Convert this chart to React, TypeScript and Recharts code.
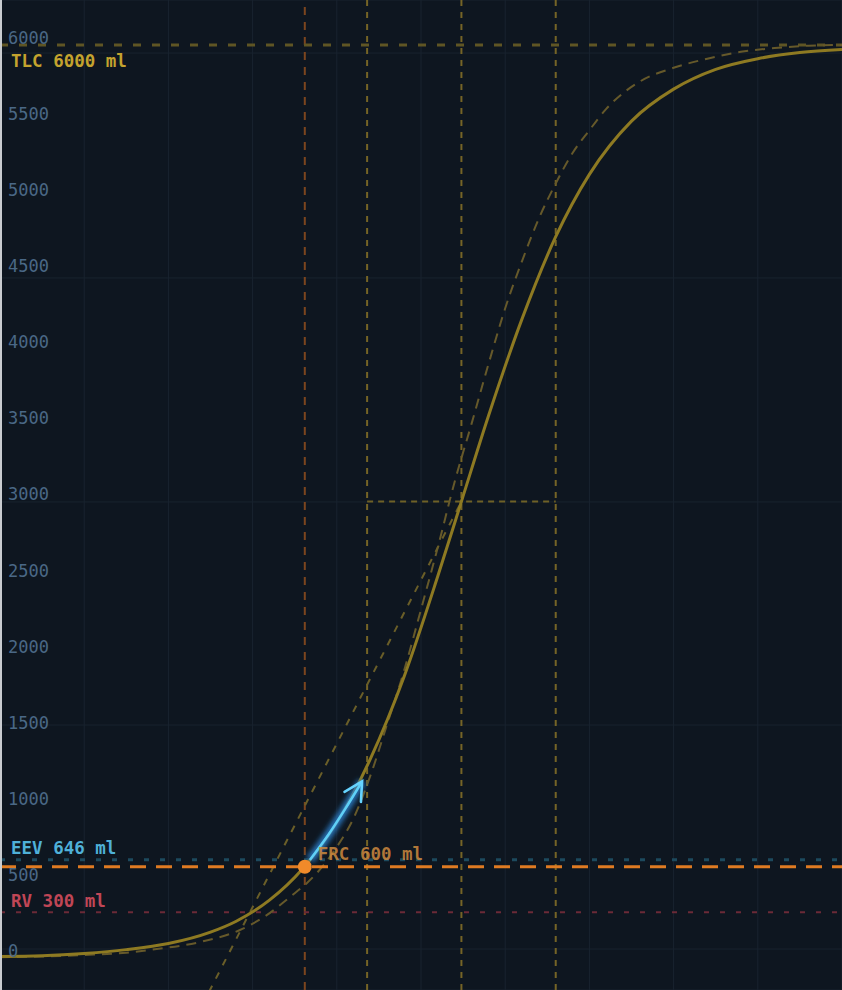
import React from 'react';
import { LineChart, Line, XAxis, YAxis, CartesianGrid, ReferenceLine, ReferenceDot } from 'recharts';

// Solid P-V curve (pressure cmH2O, volume ml)
const pressure = [0, 2.5, 5, 7.5, 10, 12.5, 14, 16, 18, 20, 22, 24, 26, 27.4, 29, 31, 33, 35, 37.5, 40, 42.5, 45, 47.5, 50];
const volume = [10, 15, 30, 55, 95, 170, 240, 380, 590, 890, 1310, 1850, 2510, 3000, 3560, 4200, 4740, 5150, 5500, 5710, 5840, 5910, 5950, 5970];

// Dashed reference curve
const pressureRef = [0, 2.5, 5, 7.5, 9, 12, 14.25, 15.86, 17.22, 18.23, 18.82, 20, 21, 22, 23, 24, 25, 26, 27, 28, 29, 30, 31, 32, 33, 34, 35, 36, 38, 40, 42, 44, 46, 48, 50];
const volumeRef = [5, 10, 20, 35, 55, 108, 184, 283, 401, 493, 559, 730, 920, 1200, 1540, 1890, 2290, 2700, 3130, 3510, 3900, 4270, 4580, 4860, 5090, 5290, 5440, 5580, 5760, 5850, 5910, 5955, 5980, 5995, 6000];

// Straight compliance line
const linePressure = [12, 27.4];
const lineVolume = [-311, 3000];

// Tidal arrow
const tidalPressure = [18.4, 19.5, 20.5, 21.5];
const tidalVolume = [644, 810, 980, 1160];

// Markers
const TLC = 6000;
const EEV = 646;
const FRC = 600;
const RV = 300;
const P_FRC = 18.1;
const P_END = 21.8;
const P_INFLECT = 27.4;
const P_UPPER = 33.0;
const V_INFLECT = 3000;

const volumeTicks = [0, 500, 1000, 1500, 2000, 2500, 3000, 3500, 4000, 4500, 5000, 5500, 6000];
const gridVolumes = [59, 1531, 2997, 4469, 5947];
const gridPressures = [0, 5, 10, 15, 20, 25, 30, 35, 40, 45, 50];

const curve = pressure.map((p, i) => ({ p, v: volume[i] }));
const curveRef = pressureRef.map((p, i) => ({ p, v: volumeRef[i] }));
const straight = linePressure.map((p, i) => ({ p, v: lineVolume[i] }));
const tidal = tidalPressure.map((p, i) => ({ p, v: tidalVolume[i] }));

const MONO = "'DejaVu Sans Mono', monospace";

const VolumeTick = (props: any) => {
  const { y, payload } = props;
  return (
    <text x={8} y={y - 7} dominantBaseline="central" textAnchor="start" fill="#4a6886" fontSize={17} fontFamily={MONO}>
      {payload.value}
    </text>
  );
};

const lineLabel = (text: string, color: string, dy: number) => (props: any) => {
  const vb = props.viewBox || {};
  return (
    <text x={(vb.x || 0) + 11} y={(vb.y || 0) + dy} dominantBaseline="central" fill={color} fontSize={17.5} fontWeight="bold" fontFamily={MONO}>
      {text}
    </text>
  );
};

const frcLabel = (props: any) => {
  const vb = props.viewBox || {};
  const cx = (vb.x || 0) + (vb.width || 0) / 2;
  const cy = (vb.y || 0) + (vb.height || 0) / 2;
  return (
    <text x={cx + 13} y={cy - 13} dominantBaseline="central" fill="#cf8a3e" fillOpacity={0.85} fontSize={17.5} fontWeight="bold" fontFamily={MONO}>
      FRC 600 ml
    </text>
  );
};

export default function App() {
  return (
    <div style={{ position: 'absolute', left: 0, top: 0, width: 842, height: 990, background: '#0e1620', overflow: 'hidden' }}>
      <LineChart width={842} height={990} margin={{ top: 0, right: 0, bottom: 0, left: 0 }}>
        <defs>
          <filter id="tvGlow" x="-50%" y="-50%" width="200%" height="200%">
            <feGaussianBlur stdDeviation="2.5" />
          </filter>
          <marker id="tvArrow" viewBox="0 0 20 20" refX="17" refY="10" markerWidth="24" markerHeight="24" markerUnits="userSpaceOnUse" orient="auto">
            <path d="M2,2 L17,10 L2,18" fill="none" stroke="#66d4ff" strokeWidth={2.2} strokeLinecap="round" />
          </marker>
        </defs>
        <XAxis type="number" dataKey="p" domain={[0, 50]} ticks={gridPressures} hide allowDataOverflow />
        <YAxis yAxisId="v" type="number" dataKey="v" domain={[-210.3, 6295.7]} ticks={volumeTicks} allowDataOverflow mirror axisLine={false} tickLine={false} tick={<VolumeTick />} />
        <YAxis yAxisId="g" type="number" domain={[-210.3, 6295.7]} ticks={gridVolumes} hide allowDataOverflow />
        <CartesianGrid yAxisId="g" stroke="#19232f" strokeWidth={1} />

        <ReferenceLine yAxisId="v" x={P_FRC} stroke="#7c451e" strokeWidth={2} strokeDasharray="8 7" />
        <ReferenceLine yAxisId="v" x={P_END} stroke="#756426" strokeWidth={2} strokeDasharray="6 6" />
        <ReferenceLine yAxisId="v" x={P_INFLECT} stroke="#756426" strokeWidth={2} strokeDasharray="6 6" />
        <ReferenceLine yAxisId="v" x={P_UPPER} stroke="#756426" strokeWidth={2} strokeDasharray="6 6" />
        <ReferenceLine yAxisId="v" segment={[{ x: P_END, y: V_INFLECT }, { x: P_UPPER, y: V_INFLECT }]} stroke="#6e6126" strokeWidth={2} strokeDasharray="6 5" />

        <ReferenceLine yAxisId="v" y={TLC} stroke="#5f5524" strokeWidth={3} strokeDasharray="8 11" label={lineLabel('TLC 6000 ml', '#c4a32e', 16)} />
        <ReferenceLine yAxisId="v" y={RV} stroke="#6b2a37" strokeWidth={2} strokeDasharray="5 11" label={lineLabel('RV 300 ml', '#c04656', -11)} />
        <ReferenceLine yAxisId="v" y={EEV} stroke="#1d4a5e" strokeWidth={3} strokeDasharray="5 11" label={lineLabel('EEV 646 ml', '#4fb0d8', -12)} />

        <Line yAxisId="v" data={curveRef} dataKey="v" type="monotone" stroke="#66592a" strokeWidth={2} strokeDasharray="10 7" dot={false} isAnimationActive={false} />
        <Line yAxisId="v" data={straight} dataKey="v" type="linear" stroke="#6a5e28" strokeWidth={2} strokeDasharray="7 8" dot={false} isAnimationActive={false} />
        <Line yAxisId="v" data={curve} dataKey="v" type="monotone" stroke="#8e7a22" strokeWidth={3} dot={false} isAnimationActive={false} />

        <ReferenceLine yAxisId="v" y={FRC} stroke="#e07b22" strokeWidth={3} strokeDasharray="16 10" />
        <ReferenceDot yAxisId="v" x={P_FRC} y={FRC} r={7} fill="#f08a2a" stroke="none" label={frcLabel} />

        <Line yAxisId="v" data={tidal} dataKey="v" type="monotone" stroke="#2a7cc8" strokeWidth={9} strokeOpacity={0.85} filter="url(#tvGlow)" dot={false} isAnimationActive={false} />
        <Line yAxisId="v" data={tidal} dataKey="v" type="monotone" stroke="#5fd0f8" strokeWidth={2.5} markerEnd="url(#tvArrow)" dot={false} isAnimationActive={false} />
      </LineChart>
      <div style={{ position: 'absolute', left: 0, top: 0, width: 2, height: 990, background: '#c9ccd0' }} />
    </div>
  );
}
